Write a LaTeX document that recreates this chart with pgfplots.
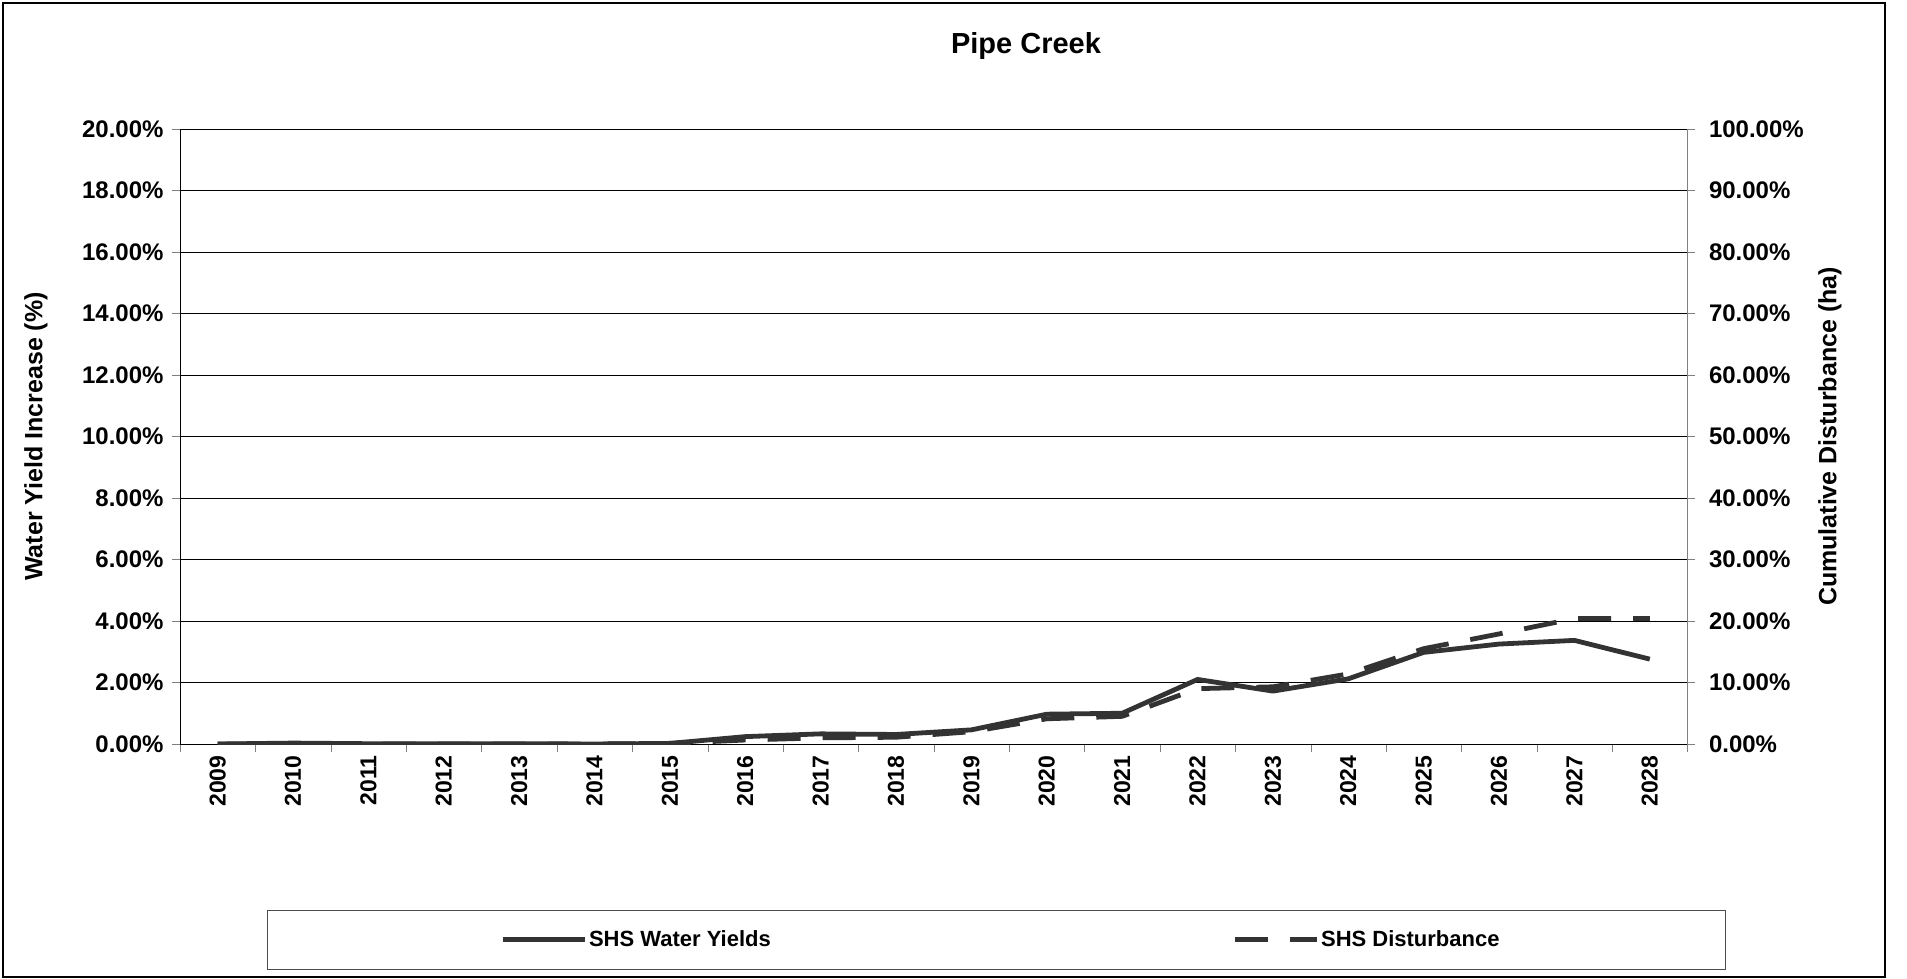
\documentclass[border=0pt]{standalone}
\usepackage{fontspec}
\setmainfont{Liberation Sans}
\usepackage{pgfplots}
\pgfplotsset{compat=1.18}
\usepackage{pgfplotstable}

\definecolor{lineg}{HTML}{333333}

% idx: category position, yield in % (left axis), dist in % (right axis)
\pgfplotstableread{
idx year yield dist
0  2009 0.00 0.0
1  2010 0.03 0.0
2  2011 0.01 0.0
3  2012 0.01 0.0
4  2013 0.01 0.0
5  2014 0.00 0.0
6  2015 0.02 0.1
7  2016 0.24 0.65
8  2017 0.33 1.0
9  2018 0.31 1.1
10 2019 0.46 2.0
11 2020 0.97 4.1
12 2021 1.00 4.5
13 2022 2.10 9.0
14 2023 1.72 9.3
15 2024 2.12 11.4
16 2025 2.98 15.5
17 2026 3.25 17.9
18 2027 3.37 20.4
19 2028 2.76 20.4
}\pipedata

\pgfplotsset{pc/.style={
  scale only axis, width=1507.5pt, height=615pt,
  at={(180pt,-744pt)}, anchor=south west,
  xmin=-0.5, xmax=19.5,
  /pgf/number format/assume math mode=true,
  tick label style={font=\fontsize{24}{28}\selectfont\bfseries},
  x tick label style={font=\fontsize{23}{27}\selectfont\bfseries},
  label style={font=\fontsize{25}{30}\selectfont\bfseries},
  tick align=outside, major tick length=8pt, minor tick length=8pt,
  legend image code/.code={\draw[#1] (0pt,0pt) -- (82pt,0pt);},
  legend style={draw=none, fill=none, inner sep=0pt, anchor=west,
    nodes={inner sep=2pt},
    font=\fontsize{22}{26}\selectfont\bfseries},
  yticklabel={\pgfmathprintnumber[fixed,fixed zerofill,precision=2]{\tick}\%},
}}

\begin{document}
\begin{tikzpicture}[x=1pt,y=1pt]
\path[use as bounding box] (0,0) rectangle (1907,-979);
\draw[line width=1.5pt] (3,-3) rectangle (1885,-977);
\node[font=\fontsize{29}{34}\selectfont\bfseries] at (1026,-46) {Pipe Creek};
\draw[line width=1pt, black!70] (267,-910) rectangle (1725,-969);

\begin{axis}[pc,
  axis x line*=bottom, axis y line*=left,
  axis line style={line width=1pt},
  ymin=0, ymax=20, ytick distance=2,
  ymajorgrids, grid style={black, line width=0.8pt},
  y tick label style={xshift=-5pt},
  xtick={0,...,19},
  xticklabels={2009,2010,2011,2012,2013,2014,2015,2016,2017,2018,2019,2020,2021,2022,2023,2024,2025,2026,2027,2028},
  x tick label style={rotate=90, anchor=east},
  minor xtick={-0.5,0.5,...,19.5},
  major x tick style={draw=none},
  ylabel={Water Yield Increase (\%)},
  ylabel style={at={(axis description cs:-0.0955,0.5)}, anchor=center},
  legend style={at={(0.2123,-0.3179)}},
]
\addplot[lineg, line width=4.8pt, line join=round] table[x=idx, y=yield]{\pipedata};
\addlegendentry{SHS Water Yields}
\end{axis}

\begin{axis}[pc,
  axis x line=none, axis y line*=right,
  y axis line style={black!50, line width=1.5pt},
  ymin=0, ymax=100, ytick distance=10,
  y tick label style={xshift=10pt},
  ylabel={Cumulative Disturbance (ha)},
  ylabel style={at={(axis description cs:1.0945,0.5)}, anchor=center},
  legend style={at={(0.6979,-0.3179)}},
]
\addplot[lineg, line width=4.8pt, dash pattern=on 33pt off 22pt] table[x=idx, y=dist]{\pipedata};
\addlegendentry{SHS Disturbance}
\end{axis}
\end{tikzpicture}
\end{document}
